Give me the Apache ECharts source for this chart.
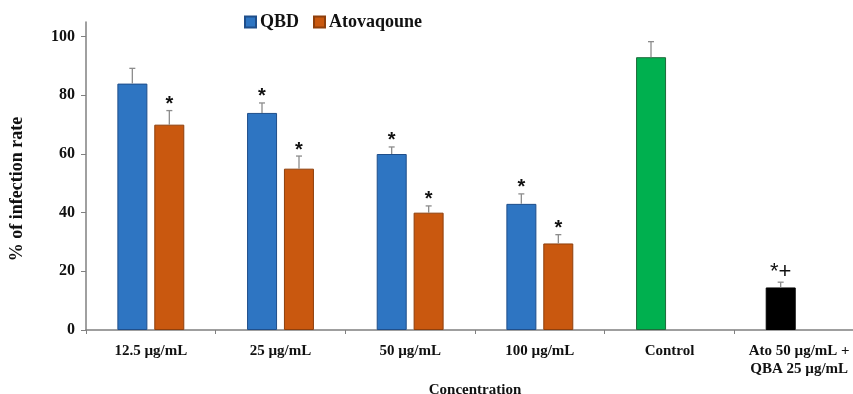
<!DOCTYPE html>
<html>
<head>
<meta charset="utf-8">
<script src="https://cdn.jsdelivr.net/npm/echarts@6/dist/echarts.min.js"></script>
<style>html,body{margin:0;padding:0;background:#fff}#c{width:853px;height:394px}</style>
</head>
<body>
<div id="c"></div>
<script>
// ---- data ----
const categories = ['12.5 µg/mL', '25 µg/mL', '50 µg/mL', '100 µg/mL', 'Control', 'Ato 50 µg/mL +\nQBA 25 µg/mL'];
const qbdValues  = [84, 74, 60, 43, 93, 14.5];
const qbdErrors  = [5.2, 3.4, 2.4, 3.4, 5.3, 1.8];
const qbdMarks   = ['', '*', '*', '*', '', '*+'];
const atoValues  = [70, 55, 40, 29.5, null, null];
const atoErrors  = [4.8, 4.3, 2.3, 3.0, null, null];
const atoMarks   = ['*', '*', '*', '*', '', ''];
const yTicks     = [0, 20, 40, 60, 80, 100];

// ---- styles ----
const FONT = 'Liberation Serif';
const BLUE = '#2E75C2', ORANGE = '#C9580F', GREEN = '#00B04F', BLACK = '#000000';
const specialColors = { 4: [GREEN, '#1E6B3A'], 5: [BLACK, '#000000'] };
const BAR_W = 30, GAP = '23%';
const OFFSET = 18.5;

const qbdData = qbdValues.map((v, i) => {
  const sc = specialColors[i];
  return sc ? { value: v, itemStyle: { color: sc[0], borderColor: sc[1] } } : v;
});

function errSeries(values, errors, marks, dir) {
  return {
    type: 'custom',
    silent: true,
    z: 5,
    data: values.map((v, i) => [i, v, errors[i]]),
    renderItem: function (params, api) {
      const v = api.value(1);
      if (v == null || isNaN(v)) return null;
      const idx = api.value(0);
      const e = api.value(2);
      const mark = marks[idx];
      const base = api.coord([idx, v]);
      const top = api.coord([idx, v + e]);
      const x = base[0] + dir * OFFSET;
      const children = [
        { type: 'line', shape: { x1: x, y1: base[1], x2: x, y2: top[1] }, style: { stroke: '#8c8c8c', lineWidth: 1.3 } },
        { type: 'line', shape: { x1: x - 3, y1: top[1], x2: x + 3, y2: top[1] }, style: { stroke: '#8c8c8c', lineWidth: 1.3 } }
      ];
      if (mark) {
        const single = mark === '*';
        children.push({
          type: 'text',
          style: {
            text: mark, x: x, y: top[1] + (single ? 4 : 1),
            align: 'center', verticalAlign: 'bottom',
            font: single ? 'bold 20px "Liberation Sans"' : '22px "Liberation Sans"',
            fill: '#111'
          }
        });
      }
      return { type: 'group', children: children };
    }
  };
}

const chart = echarts.init(document.getElementById('c'), null, { renderer: 'canvas' });
chart.setOption({
  animation: false,
  backgroundColor: '#fff',
  grid: { left: 86, top: 22, width: 778, bottom: 64, containLabel: false, outerBoundsMode: 'none' },
  legend: {
    data: ['QBD', 'Atovaqoune'],
    left: 239, top: 8,
    itemWidth: 11, itemHeight: 11, itemGap: 14,
    icon: 'rect',
    textStyle: { fontFamily: FONT, fontWeight: 'bold', fontSize: 18, color: '#111', padding: [0, 0, 0, -1] }
  },
  xAxis: {
    type: 'category',
    data: categories,
    name: 'Concentration',
    nameLocation: 'middle',
    nameGap: 48,
    nameTextStyle: { fontFamily: FONT, fontWeight: 'bold', fontSize: 15, color: '#111' },
    axisLine: { lineStyle: { color: '#808080', width: 1.5 } },
    axisTick: { show: true, length: 4, lineStyle: { color: '#808080' } },
    axisLabel: { fontFamily: FONT, fontWeight: 'bold', fontSize: 15, color: '#111', margin: 12, lineHeight: 18, interval: 0 }
  },
  yAxis: {
    type: 'value',
    min: 0, max: 105,
    name: '% of infection rate',
    nameLocation: 'middle',
    nameGap: 60,
    nameTextStyle: { fontFamily: FONT, fontWeight: 'bold', fontSize: 18, color: '#111', padding: [0, 26, 0, 0] },
    splitLine: { show: false },
    axisLine: { show: true, lineStyle: { color: '#808080', width: 1.5 } },
    axisTick: { show: true, length: 5, customValues: yTicks, lineStyle: { color: '#808080' } },
    axisLabel: { customValues: yTicks, fontFamily: FONT, fontWeight: 'bold', fontSize: 16, color: '#111', margin: 11 }
  },
  series: [
    {
      name: 'QBD', type: 'bar', data: qbdData, barWidth: BAR_W, barGap: GAP,
      itemStyle: { color: BLUE, borderColor: '#1F4E8A', borderWidth: 1 }
    },
    {
      name: 'Atovaqoune', type: 'bar', data: atoValues, barWidth: BAR_W, barGap: GAP,
      itemStyle: { color: ORANGE, borderColor: '#8E3F0C', borderWidth: 1 }
    },
    errSeries(qbdValues, qbdErrors, qbdMarks, -1),
    errSeries(atoValues, atoErrors, atoMarks, 1)
  ]
});
</script>
</body>
</html>
